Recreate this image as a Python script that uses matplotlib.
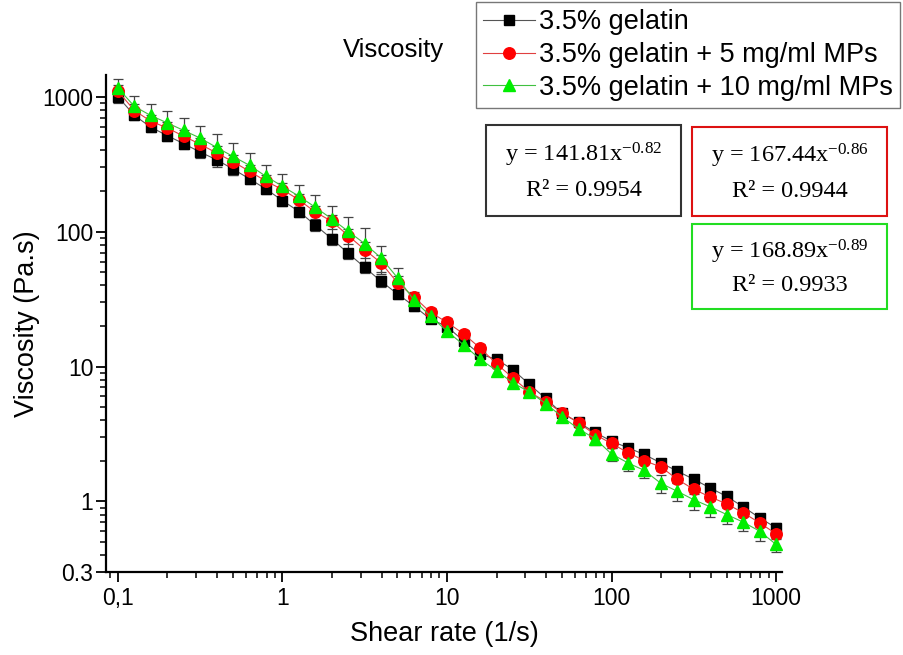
import numpy as np
import matplotlib
matplotlib.use("Agg")
import matplotlib.pyplot as plt
from matplotlib.patches import Rectangle
from matplotlib.ticker import FixedLocator, FixedFormatter, LogLocator, NullFormatter

plt.rcParams['font.family'] = ['Liberation Sans', 'DejaVu Sans']
plt.rcParams['mathtext.fontset'] = 'custom'
plt.rcParams['mathtext.rm'] = 'Liberation Serif'
plt.rcParams['mathtext.it'] = 'Liberation Serif:italic'

# ---- data ----
shear_rate = [0.1, 0.126, 0.158, 0.2, 0.251, 0.316, 0.398, 0.501, 0.631, 0.794,
              1.0, 1.26, 1.58, 2.0, 2.51, 3.16, 3.98, 5.01, 6.31, 7.94,
              10.0, 12.6, 15.8, 20.0, 25.1, 31.6, 39.8, 50.1, 63.1, 79.4,
              100, 126, 158, 200, 251, 316, 398, 501, 631, 794, 1000]

visc_gel = [1000, 727, 596, 514, 449, 389, 341, 291, 246, 207,
            170, 141, 112, 88.3, 69, 54.4, 42.8, 34.5, 28, 22.5,
            19.8, 15.5, 12.4, 11.3, 9.5, 7.4, 5.8, 4.5, 3.85, 3.25,
            2.8, 2.5, 2.23, 1.93, 1.68, 1.46, 1.26, 1.09, 0.913, 0.757, 0.638]
err_gel = [100, 60, 50, 45, 40, 35, 40, 30, 22, 18,
           15, 12, 10, 8, 6, 5, 4, 3, 2, 1.5,
           1.2, 1.0, 0.8, 0.7, 0.6, 0.45, 0.35, 0.3, 0.25, 0.2,
           0.2, 0.18, 0.15, 0.13, 0.12, 0.1, 0.09, 0.08, 0.06, 0.05, 0.05]

visc_mp5 = [1100, 790, 660, 586, 510, 445, 383, 330, 280, 237,
            205, 172, 140, 119, 93.4, 73.5, 58.6, 41.7, 32.8, 25.2,
            21.3, 17.5, 13.8, 10.5, 8.25, 6.5, 5.5, 4.55, 3.83, 3.13,
            2.69, 2.30, 2.01, 1.80, 1.46, 1.23, 1.08, 0.96, 0.825, 0.695, 0.576]
err_mp5 = [130, 90, 75, 65, 57, 50, 45, 38, 32, 27,
           23, 19, 16, 14, 12, 10, 8, 5, 3, 2,
           1.5, 1.2, 0.9, 0.7, 0.55, 0.45, 0.35, 0.3, 0.25, 0.2,
           0.18, 0.15, 0.13, 0.12, 0.1, 0.09, 0.08, 0.07, 0.06, 0.05, 0.045]

visc_mp10 = [1160, 848, 727, 639, 563, 494, 421, 361, 310, 257,
             217, 183, 152, 124, 100.5, 81.5, 63.8, 45.4, 31.0, 23.6,
             18.3, 14.5, 11.4, 9.34, 7.57, 6.5, 5.32, 4.24, 3.45, 2.92,
             2.25, 1.93, 1.70, 1.36, 1.19, 1.03, 0.913, 0.80, 0.703, 0.603, 0.48]
err_mp10 = [200, 158, 156, 149, 133, 115, 108, 97, 73, 57,
            50, 40, 35, 32, 28, 25, 15, 8.5, 2.0, 1.5,
            1.2, 1.0, 0.8, 0.8, 0.6, 0.5, 0.4, 0.35, 0.3, 0.28,
            0.25, 0.25, 0.22, 0.2, 0.18, 0.17, 0.14, 0.12, 0.1, 0.09, 0.06]

labels = ["3.5% gelatin", "3.5% gelatin + 5 mg/ml MPs", "3.5% gelatin + 10 mg/ml MPs"]
fits = [("141.81", "-0.82", "0.9954"), ("167.44", "-0.86", "0.9944"), ("168.89", "-0.89", "0.9933")]

xticks = [0.1, 1, 10, 100, 1000]
xticklabels = ["0,1", "1", "10", "100", "1000"]
yticks = [0.3, 1, 10, 100, 1000]
yticklabels = ["0.3", "1", "10", "100", "1000"]

# ---- figure ----
W, H = 904, 655
fig = plt.figure(figsize=(W / 100, H / 100), dpi=100)
ax = fig.add_axes([106 / W, 1 - 572 / H, (782 - 106) / W, (572 - 75) / H])

styles = [
    dict(color="#000000", marker="s", ms=7.8, lc="#555555"),
    dict(color="#ff0000", marker="o", ms=8.3, lc="#e04040"),
    dict(color="#00ee00", marker="^", ms=9.3, lc="#40c040"),
]
series = [(visc_gel, err_gel), (visc_mp5, err_mp5), (visc_mp10, err_mp10)]
handles = []
for (vals, errs), st, lab in zip(series, styles, labels):
    ax.errorbar(shear_rate, vals, yerr=errs, fmt="none", ecolor="#444444",
                elinewidth=0.9, capsize=3.5, capthick=0.9, zorder=2)
    h, = ax.plot(shear_rate, vals, color=st["lc"], lw=0.8, marker=st["marker"],
                 ms=st["ms"], mfc=st["color"], mec=st["color"], label=lab, zorder=3)
    handles.append(h)

ax.set_xscale("log")
ax.set_yscale("log")
ax.set_xlim(0.0846, 1087)
ax.set_ylim(0.3, 1450)

ax.xaxis.set_major_locator(FixedLocator(xticks))
ax.xaxis.set_major_formatter(FixedFormatter(xticklabels))
ax.yaxis.set_major_locator(FixedLocator(yticks))
ax.yaxis.set_major_formatter(FixedFormatter(yticklabels))
ax.xaxis.set_minor_locator(LogLocator(base=10, subs=np.arange(2, 10), numticks=20))
ax.yaxis.set_minor_locator(LogLocator(base=10, subs=np.arange(2, 10), numticks=20))
ax.xaxis.set_minor_formatter(NullFormatter())
ax.yaxis.set_minor_formatter(NullFormatter())

for s in ["top", "right"]:
    ax.spines[s].set_visible(False)
for s in ["left", "bottom"]:
    ax.spines[s].set_linewidth(1.6)
ax.tick_params(which="major", length=7, width=1.3, labelsize=16.5, direction="out")
ax.tick_params(axis="x", which="major", pad=4)
ax.tick_params(axis="y", which="major", pad=2)
ax.tick_params(which="minor", length=4, width=1.1, direction="out")

ax.set_xlabel("Shear rate (1/s)", fontsize=19.5, labelpad=8)
ax.set_ylabel("Viscosity (Pa.s)", fontsize=19.5, labelpad=2)

fig.text(393 / W, 1 - 50 / H, "Viscosity", ha="center", va="center", fontsize=18.5)

leg = fig.legend(handles=handles, loc="upper right", bbox_to_anchor=(900 / W, 1 - 2 / H),
                 fontsize=19.5, frameon=True, fancybox=False, edgecolor="#555555",
                 handlelength=1.9, handletextpad=0.15, labelspacing=0.25,
                 borderpad=0.27, borderaxespad=0)
leg.get_frame().set_linewidth(1.0)

# equation boxes
boxes = [((486, 125, 681, 216), "#333333"),
         ((692, 127, 887, 216), "#dd1111"),
         ((692, 224, 887, 309), "#22dd22")]
for (x0, y0, x1, y1), col in boxes:
    fig.patches.append(Rectangle((x0 / W, 1 - y1 / H), (x1 - x0) / W, (y1 - y0) / H,
                                 transform=fig.transFigure, fill=False,
                                 edgecolor=col, linewidth=1.5))
for ((x0, y0, x1, y1), col), (a, b, r2) in zip(boxes, fits):
    cx = (x0 + x1) / 2 / W
    hgt = y1 - y0
    fig.text(cx, 1 - (y0 + hgt * 0.33) / H, f"y = {a}x$^{{{b}}}$", ha="center", va="center",
             fontsize=17.5, family="Liberation Serif")
    fig.text(cx, 1 - (y0 + hgt * 0.72) / H, f"R² = {r2}", ha="center", va="center",
             fontsize=17.5, family="Liberation Serif")

fig.savefig("out.png", dpi=100)
